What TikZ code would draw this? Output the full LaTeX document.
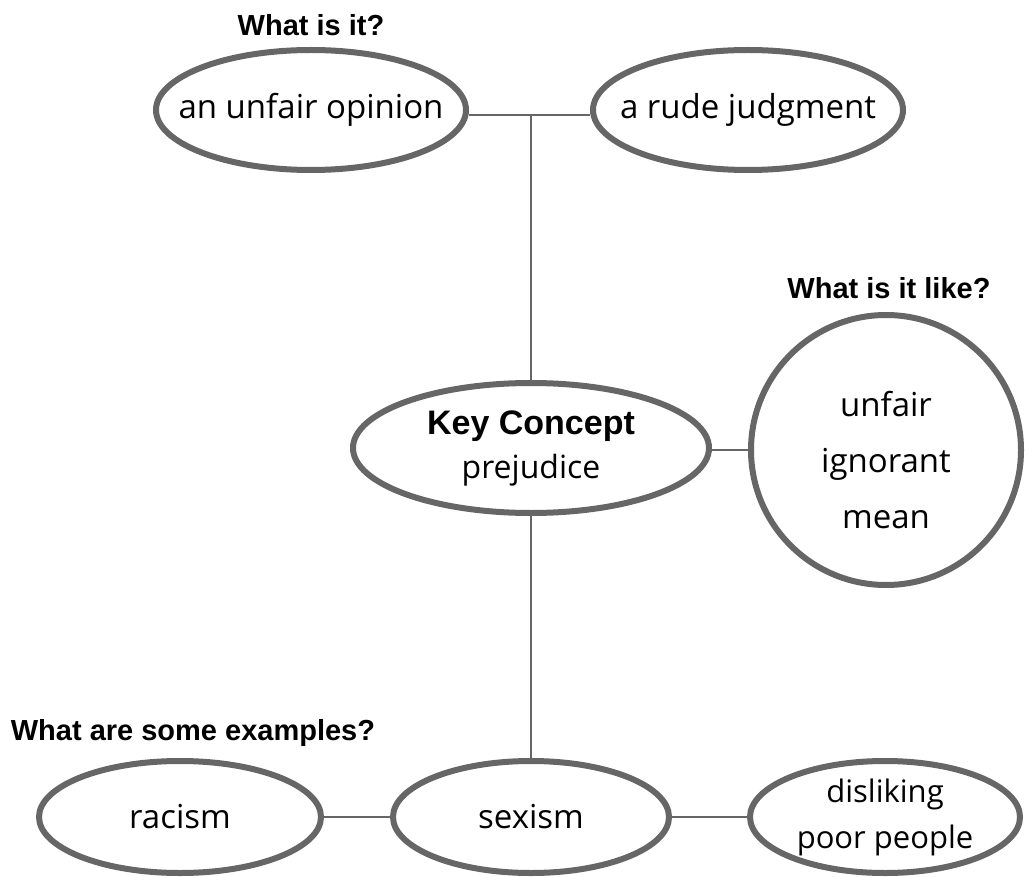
\documentclass[tikz,border=0pt]{standalone}
\usepackage{fontspec}
\setmainfont{Open Sans}
\newfontfamily\headfont{Liberation Sans}
\tikzset{
  bubble/.style={ellipse,draw=linegray,line width=6pt,fill=white,inner sep=0pt},
  hand/.style={font=\fontsize{33}{48}\selectfont,align=center},
  link/.style={draw=linegray,line width=2.5pt},
  question/.style={font=\headfont\bfseries\fontsize{29}{34}\selectfont}
}
\usetikzlibrary{shapes.geometric}
\definecolor{linegray}{HTML}{666666}
\begin{document}
\begin{tikzpicture}[x=1pt,y=-1pt]
  \useasboundingbox (0,0) rectangle (1025,877);

  \node [question] (qwhat) at (311,25) {What is it?};
  \node [question] (qlike) at (889,288) {What is it like?};
  \node [question] (qexamples) at (193,733) {What are some examples?};

  \node [bubble,minimum width=310pt,minimum height=120pt,label={[hand]center:an unfair opinion}] (opinion) at (311,110) {};
  \node [bubble,minimum width=310pt,minimum height=120pt,label={[hand]center:a rude judgment}] (judgment) at (748,110) {};

  \node [bubble,minimum width=356pt,minimum height=130pt,
    label={[hand,font=\fontsize{32}{46}\selectfont]center:{{\headfont\bfseries\fontsize{34}{40}\selectfont Key Concept}\\[-2pt]prejudice}}] (key) at (531,448) {};
  \node [bubble,circle,minimum size=270pt,
    label={[hand,font=\fontsize{33}{56}\selectfont,yshift=-10pt]center:{unfair\\ignorant\\mean}}] (like) at (886,450) {};

  \node [bubble,minimum width=282pt,minimum height=112pt,label={[hand]center:racism}] (racism) at (180,817) {};
  \node [bubble,minimum width=276pt,minimum height=112pt,label={[hand]center:sexism}] (sexism) at (531,817) {};
  \node [bubble,minimum width=270pt,minimum height=112pt,
    label={[hand,font=\fontsize{31}{46}\selectfont]center:{disliking\\poor people}}] (poor) at (885,817) {};

  \coordinate (junction) at (531,115);

  \draw [link] (opinion.east |- junction) -- (judgment.west |- junction);
  \draw [link] (key.north) -- (junction);
  \draw [link] (key.east |- like.west) -- (like.west);
  \draw [link] (key.south) -- (sexism.north);
  \draw [link] (racism.east) -- (sexism.west);
  \draw [link] (sexism.east) -- (poor.west);
\end{tikzpicture}
\end{document}
